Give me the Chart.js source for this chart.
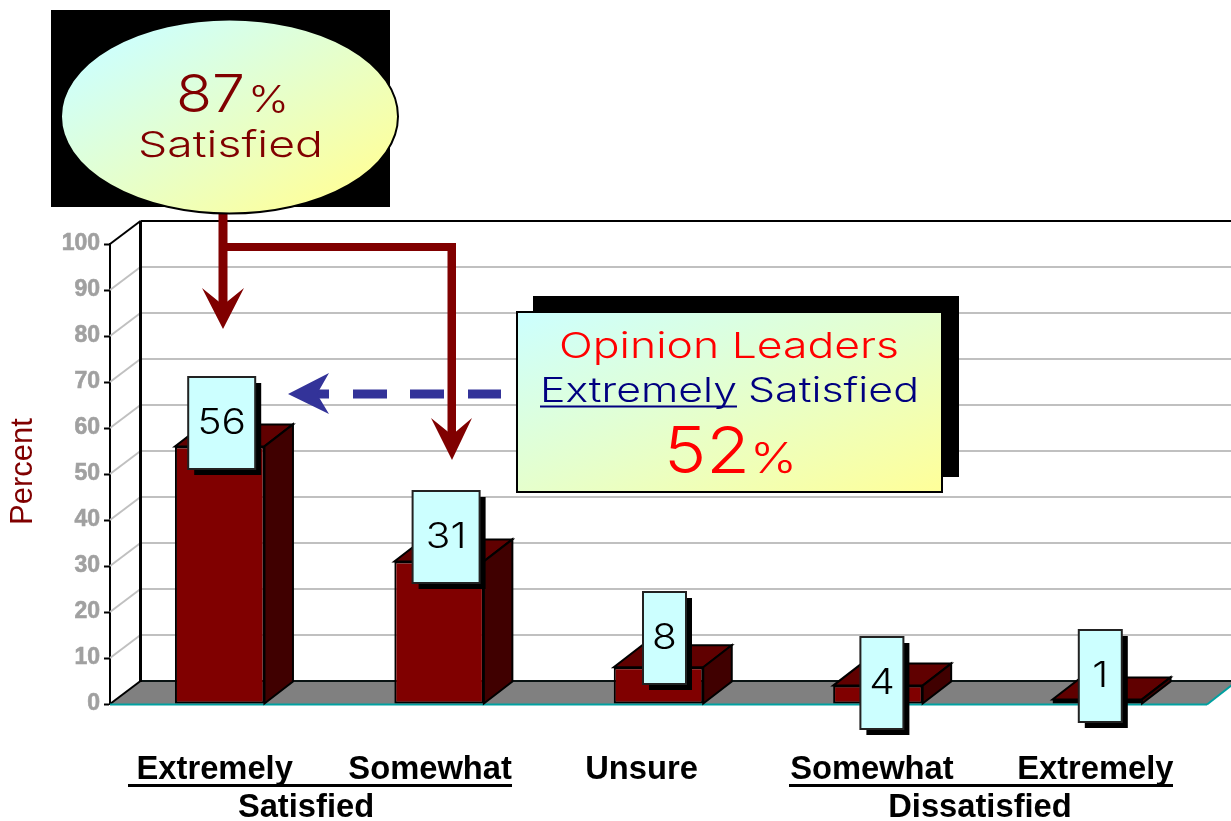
<!DOCTYPE html>
<html>
<head>
<meta charset="utf-8">
<title>Satisfaction</title>
<script src="https://cdn.jsdelivr.net/npm/chart.js@4/dist/chart.umd.min.js"></script>
<style>
html, body { margin: 0; padding: 0; background: #fff; }
canvas { display: block; }
</style>
</head>
<body>
<canvas id="satisfaction" width="1231" height="821"></canvas>
<script>
// chart data
const categories = ['Extremely', 'Somewhat', 'Unsure', 'Somewhat', 'Extremely'];
const percentValues = [56, 31, 8, 4, 1];
const percentTicks = [0, 10, 20, 30, 40, 50, 60, 70, 80, 90, 100];
const groupLabels = ['Satisfied', 'Dissatisfied'];

// 3d look of the old chart
const DEPTH_X = 28.5;
const DEPTH_Y = 22;
const TEXT = 'Inter, "DejaVu Sans", sans-serif';
const BOLD = 'bold 32.7px "Liberation Sans", Arial, sans-serif';

// label boxes: shift from bar centre, top y, width
const boxShift = [2, 7, 6, 4, 3];
const boxTop = [377, 491, 592, 637, 630];
const boxWidth = [67, 67, 43, 43, 43];
const labelShift = [-5, -9, -17, -6, -2];

function cornerGradient(ctx, x, y, w, h) {
    // same as css "to bottom right"
    const n = Math.sqrt(w * w + h * h);
    const l = w * h / n;
    const cx = x + w / 2, cy = y + h / 2;
    const dx = h / n * l, dy = w / n * l;
    const g = ctx.createLinearGradient(cx - dx, cy - dy, cx + dx, cy + dy);
    g.addColorStop(0, '#ccffff');
    g.addColorStop(1, '#ffff99');
    return g;
}

function text(ctx, str, x, y, font, color) {
    ctx.font = font;
    ctx.fillStyle = color;
    ctx.fillText(str, x, y);
}

// draw text stretched sideways to a given width, the reference font is very wide
function fitText(ctx, str, x, y, size, color, width) {
    ctx.save();
    ctx.font = '300 ' + size + 'px ' + TEXT;
    ctx.fillStyle = color;
    ctx.textAlign = 'left';
    const m = ctx.measureText(str);
    ctx.translate(x, y);
    ctx.scale(width / m.width, 1);
    ctx.fillText(str, 0, 0);
    ctx.restore();
}

function poly(ctx, pts, fill, stroke, lw) {
    ctx.beginPath();
    pts.forEach(function(p, i) {
        if (i === 0) ctx.moveTo(p[0], p[1]); else ctx.lineTo(p[0], p[1]);
    });
    ctx.closePath();
    if (fill) { ctx.fillStyle = fill; ctx.fill(); }
    if (stroke) { ctx.strokeStyle = stroke; ctx.lineWidth = lw || 1; ctx.stroke(); }
}

function line(ctx, x1, y1, x2, y2, color, lw) {
    ctx.beginPath();
    ctx.moveTo(x1, y1);
    ctx.lineTo(x2, y2);
    ctx.strokeStyle = color;
    ctx.lineWidth = lw;
    ctx.stroke();
}

const wallPlugin = {
    id: 'wall',
    beforeDatasetsDraw: function(chart) {
        const ctx = chart.ctx, a = chart.chartArea, y = chart.scales.y;
        const backX = a.left + 30.5;
        const w = chart.width;
        ctx.save();
        ctx.lineCap = 'butt';
        percentTicks.forEach(function(v) {
            const py = y.getPixelForValue(v);
            if (v === 0) return;
            const color = v === 100 ? '#000' : '#c0c0c0';
            line(ctx, a.left, py, backX, py - DEPTH_Y - 1, color, 2);
            line(ctx, backX, py - DEPTH_Y - 1, w, py - DEPTH_Y - 1, color, 2);
        });
        // floor
        const y0 = y.getPixelForValue(0);
        poly(ctx, [[a.left, y0], [a.right, y0], [a.right + 30, y0 - DEPTH_Y - 1], [backX, y0 - DEPTH_Y - 1]], '#808080');
        line(ctx, backX, y0 - DEPTH_Y - 1, w, y0 - DEPTH_Y - 1, '#0a1414', 2);
        line(ctx, a.left, y0, backX, y0 - DEPTH_Y - 1, '#000', 2);
        line(ctx, a.left, y0 + 0.5, a.right, y0 + 0.5, '#00a0a0', 2);
        line(ctx, a.right, y0 + 0.5, a.right + 30, y0 - DEPTH_Y - 1, '#00a0a0', 2);
        line(ctx, backX, y.getPixelForValue(100) - DEPTH_Y - 1, backX, y0 - DEPTH_Y, '#000', 3);

        // bar tops and sides
        chart.getDatasetMeta(0).data.forEach(function(bar) {
            const l = bar.x - bar.width / 2, r = bar.x + bar.width / 2;
            poly(ctx, [[l, bar.y], [r, bar.y], [r + DEPTH_X, bar.y - DEPTH_Y], [l + DEPTH_X, bar.y - DEPTH_Y]], '#600000', '#000', 2);
            poly(ctx, [[r, bar.y], [r + DEPTH_X, bar.y - DEPTH_Y], [r + DEPTH_X, bar.base - DEPTH_Y], [r, bar.base]], '#400000', '#000', 2);
        });
        ctx.restore();
    },
    afterDatasetsDraw: function(chart) {
        const ctx = chart.ctx, x = chart.scales.x;
        ctx.save();

        // value boxes
        ctx.textBaseline = 'alphabetic';
        chart.getDatasetMeta(0).data.forEach(function(bar, i) {
            const bw = boxWidth[i], bh = 92;
            const bx = bar.x + boxShift[i] - bw / 2, by = boxTop[i];
            ctx.fillStyle = '#000';
            ctx.fillRect(bx + 6, by + 6, bw, bh);
            ctx.fillStyle = '#ccffff';
            ctx.fillRect(bx, by, bw, bh);
            ctx.strokeStyle = '#222';
            ctx.lineWidth = 2;
            ctx.strokeRect(bx, by, bw, bh);
            ctx.save();
            ctx.translate(bx + bw / 2, by + 57);
            ctx.scale(1.16, 1);
            ctx.textAlign = 'center';
            text(ctx, String(percentValues[i]), 0, 0, '300 35px ' + TEXT, '#000');
            ctx.restore();
        });
        ctx.textAlign = 'left';

        // red arrows out of the ellipse
        const red = '#800000';
        ctx.fillStyle = red;
        ctx.fillRect(218.5, 205, 9, 105);
        ctx.fillRect(223, 243, 232, 8);
        ctx.fillRect(447.5, 243, 8.5, 197);
        poly(ctx, [[202, 288], [223, 305], [244, 288], [223, 329]], red);
        poly(ctx, [[431, 418], [452, 435], [472, 418], [452, 460]], red);

        // blue dashed arrow
        const blue = '#333399';
        ctx.fillStyle = blue;
        ctx.fillRect(315, 389.5, 14, 9);
        ctx.fillRect(353, 389.5, 34, 9);
        ctx.fillRect(410, 389.5, 34, 9);
        ctx.fillRect(468, 389.5, 33, 9);
        poly(ctx, [[288, 394], [329, 373], [317, 394], [329, 414]], blue);

        // ellipse callout
        ctx.fillStyle = '#000';
        ctx.fillRect(51, 10, 339, 197);
        ctx.beginPath();
        ctx.ellipse(229.5, 116.5, 168.5, 97, 0, 0, Math.PI * 2);
        ctx.fillStyle = cornerGradient(ctx, 101, 39.5, 257, 154);
        ctx.fill();
        ctx.strokeStyle = '#000';
        ctx.lineWidth = 2;
        ctx.stroke();
        fitText(ctx, '87', 176, 112, 52, red, 69);
        fitText(ctx, '%', 248, 112, 37, red, 41);
        fitText(ctx, 'Satisfied', 138, 157, 36, red, 185);

        // opinion leaders box
        ctx.fillStyle = '#000';
        ctx.fillRect(533, 296, 426, 181);
        ctx.fillStyle = cornerGradient(ctx, 517, 312, 425, 180);
        ctx.fillRect(517, 312, 425, 180);
        ctx.strokeStyle = '#000';
        ctx.lineWidth = 2;
        ctx.strokeRect(517, 312, 425, 180);
        fitText(ctx, 'Opinion Leaders', 559, 358, 36, '#ff0000', 340);
        fitText(ctx, 'Extremely', 540, 402, 34, '#000080', 197);
        fitText(ctx, 'Satisfied', 748, 402, 34, '#000080', 171);
        line(ctx, 540, 406.5, 737, 406.5, '#000080', 2);
        fitText(ctx, '52', 664, 473, 64, '#ff0000', 86);
        fitText(ctx, '%', 750, 473, 42, '#ff0000', 47);

        // axis name, rotated by hand so it sits where the original has it
        ctx.save();
        ctx.translate(32, 525);
        ctx.rotate(-Math.PI / 2);
        ctx.textAlign = 'left';
        text(ctx, 'Percent', 0, 0, '31px "Liberation Sans", Arial, sans-serif', '#800000');
        ctx.restore();

        // category labels, the original has them hand placed
        ctx.textAlign = 'center';
        categories.forEach(function(c, i) {
            text(ctx, c, x.getPixelForValue(i) + labelShift[i], 779, BOLD, '#000');
        });
        text(ctx, groupLabels[0], 306, 817, BOLD, '#000');
        text(ctx, groupLabels[1], 980, 817, BOLD, '#000');
        ctx.fillStyle = '#000';
        ctx.fillRect(128, 784, 384, 3);
        ctx.fillRect(789, 784, 384, 3);
        ctx.restore();
    }
};

const ctx = document.getElementById('satisfaction').getContext('2d');

const satisfactionChart = new Chart(ctx, {
    type: 'bar',
    data: {
        labels: categories,
        datasets: [{
            label: 'Percent',
            data: percentValues,
            backgroundColor: '#800000',
            borderColor: '#000',
            borderWidth: 2,
            borderSkipped: false,
            categoryPercentage: 1,
            barPercentage: 0.408
        }]
    },
    options: {
        responsive: false,
        animation: false,
        layout: { padding: { top: 244, right: 24, bottom: 117, left: 0 } },
        plugins: {
            legend: { display: false },
            tooltip: { enabled: false }
        },
        scales: {
            x: {
                ticks: { display: false },
                grid: { display: false },
                border: { display: false },
                afterFit: function(scale) { scale.height = 0; }
            },
            y: {
                min: 0,
                max: 100,
                afterBuildTicks: function(scale) {
                    scale.ticks = percentTicks.map(function(v) { return { value: v }; });
                },
                afterFit: function(scale) { scale.width = 110; },
                ticks: {
                    color: '#a0a0a0',
                    padding: 4,
                    textStrokeColor: '#a0a0a0',
                    textStrokeWidth: 0.6,
                    font: { family: '"Liberation Sans", Arial, sans-serif', size: 23, weight: 'bold' }
                },
                grid: { drawOnChartArea: false, tickLength: 6, tickColor: '#000', tickWidth: 2 },
                border: { color: '#000', width: 2 }
            }
        }
    },
    plugins: [wallPlugin]
});
</script>
</body>
</html>
